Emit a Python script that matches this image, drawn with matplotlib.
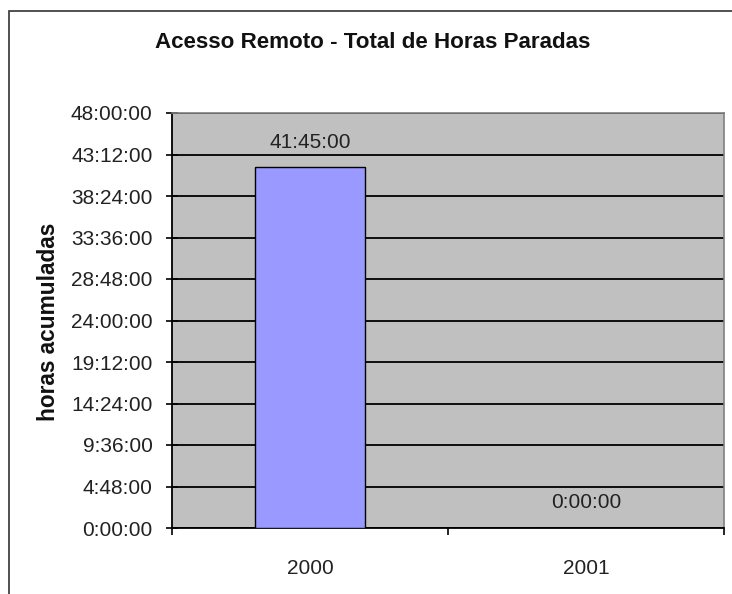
import matplotlib
matplotlib.use("Agg")
import matplotlib.pyplot as plt
from matplotlib.patches import Rectangle
from matplotlib.ticker import FixedLocator, FuncFormatter

categories = ["2000", "2001"]
hours = [41.75, 0.0]
value_labels = ["41:45:00", "0:00:00"]
ytick_hours = [0, 4.8, 9.6, 14.4, 19.2, 24, 28.8, 33.6, 38.4, 43.2, 48]

plt.rcParams['font.family'] = ['Liberation Sans', 'DejaVu Sans']

def fmt(h, pos=None):
    total = int(round(h * 3600))
    hh = total // 3600
    mm = (total % 3600) // 60
    ss = total % 60
    return f"{hh}:{mm:02d}:{ss:02d}"

fig = plt.figure(figsize=(7.32, 5.94), dpi=100)
fig.patch.set_facecolor('white')

# chart border
fig.add_artist(Rectangle((9/732, -0.1), 1.2, 1 - 11/594 + 0.1, transform=fig.transFigure,
                         fill=False, edgecolor='#333333', linewidth=1.2))

ax = fig.add_axes([172/732, 1 - 528/594, (724-172)/732, (528-113)/594])
ax.set_facecolor('#C0C0C0')

x = list(range(len(categories)))
bars = ax.bar(x, hours, width=0.4, color='#9999FF', edgecolor='black', linewidth=1, zorder=3)

ax.set_xlim(-0.5, 1.5)
ax.set_ylim(0, 48)
ax.yaxis.set_major_locator(FixedLocator(ytick_hours))
ax.yaxis.set_major_formatter(FuncFormatter(fmt))
ax.grid(axis='y', color='black', linewidth=1.3, zorder=1)
ax.set_axisbelow(True)

ax.set_xticks(x)
ax.set_xticklabels(categories)
ax.set_xticks([-0.5, 0.5, 1.5], minor=True)
ax.tick_params(axis='x', which='major', length=0, pad=22, labelsize=15, colors='#222222')
ax.tick_params(axis='x', which='minor', length=5, width=1.2, direction='out', color='black')
ax.tick_params(axis='y', which='major', length=8, width=1.2, direction='inout', pad=10,
               labelsize=15, labelcolor='#222222', color='black')

for s in ['top', 'right']:
    ax.spines[s].set_color('#808080')
    ax.spines[s].set_linewidth(1.2)
for s in ['left', 'bottom']:
    ax.spines[s].set_color('black')
    ax.spines[s].set_linewidth(1.3)

for xi, h, lab in zip(x, hours, value_labels):
    ax.annotate(lab, (xi, h), xytext=(0, 18), textcoords='offset points',
                ha='center', va='center', fontsize=15, color='#222222')

ax.set_ylabel("horas acumuladas", fontsize=16.3, fontweight='bold', color='#111111')
ax.yaxis.set_label_coords(-0.203, 0.496)

fig.text(0.5 * (155 + 590) / 732, 1 - 42/594, "Acesso Remoto - Total de Horas Paradas",
         ha='center', va='center', fontsize=16.1, fontweight='bold', color='#111111')

fig.savefig("out.png", dpi=100)
